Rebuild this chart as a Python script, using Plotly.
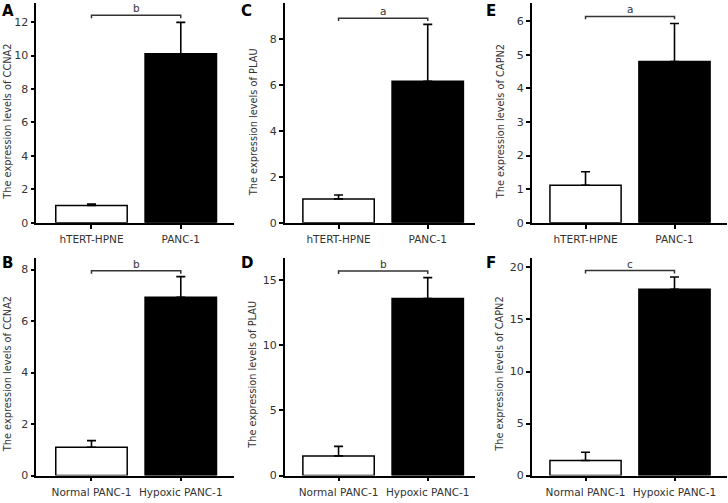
import plotly.graph_objects as go

W, H = 728, 503

# ---- data ----
cats_cell = ["hTERT-HPNE", "PANC-1"]
cats_hyp = ["Normal PANC-1", "Hypoxic PANC-1"]

ccna2_cell = [1.04, 10.1]
ccna2_cell_err = [0.08, 1.88]
plau_cell = [1.04, 6.15]
plau_cell_err = [0.17, 2.47]
capn2_cell = [1.12, 4.80]
capn2_cell_err = [0.40, 1.13]

ccna2_hyp = [1.10, 6.93]
ccna2_hyp_err = [0.26, 0.80]
plau_hyp = [1.51, 13.6]
plau_hyp_err = [0.73, 1.60]
capn2_hyp = [1.45, 17.9]
capn2_hyp_err = [0.79, 1.18]

sig_labels = {"A": "b", "C": "a", "E": "a", "B": "b", "D": "b", "F": "c"}
bracket_levels = {"A": 12.4, "C": 8.89, "E": 6.14, "B": 7.96, "D": 15.7, "F": 19.7}
yticks = {
    "A": [0, 2, 4, 6, 8, 10, 12],
    "C": [0, 2, 4, 6, 8],
    "E": [0, 1, 2, 3, 4, 5, 6],
    "B": [0, 2, 4, 6, 8],
    "D": [0, 5, 10, 15],
    "F": [0, 5, 10, 15, 20],
}
ytitles = {
    "A": "The expression levels of CCNA2",
    "C": "The expression levels of PLAU",
    "E": "The expression levels of CAPN2",
    "B": "The expression levels of CCNA2",
    "D": "The expression levels of PLAU",
    "F": "The expression levels of CAPN2",
}

# ---- layout geometry (pixels) ----
col_px = [(36.3, 234.0), (284.6, 475.0), (531.7, 727.0)]
col_xrange = [(-0.618, 1.596), (-0.605, 1.53), (-0.605, 1.59)]
row_px = [(3.0, 226.0), (261.7, 482.3)]  # top, bottom in screen px
yranges = {"A": 13.14, "C": 9.55, "E": 6.54, "B": 8.45, "D": 16.7, "F": 20.9}
title_x = [7.5, 253.0, 500.0]
title_y = [124.0, 380.0]

panels = [
    ("A", 0, 0, cats_cell, ccna2_cell, ccna2_cell_err),
    ("C", 0, 1, cats_cell, plau_cell, plau_cell_err),
    ("E", 0, 2, cats_cell, capn2_cell, capn2_cell_err),
    ("B", 1, 0, cats_hyp, ccna2_hyp, ccna2_hyp_err),
    ("D", 1, 1, cats_hyp, plau_hyp, plau_hyp_err),
    ("F", 1, 2, cats_hyp, capn2_hyp, capn2_hyp_err),
]

def px_x(p):
    return p / W

def px_y(p):
    return 1 - p / H

fig = go.Figure()
font = "DejaVu Sans"
annotations = []

for i, (lab, r, c, cats, vals, errs) in enumerate(panels):
    n = "" if i == 0 else str(i + 1)
    xa, ya = "x" + n, "y" + n
    # bars
    fig.add_trace(go.Bar(
        x=cats, y=vals, xaxis=xa, yaxis=ya,
        width=0.8,
        marker=dict(color=["white", "black"], line=dict(color="black", width=1.5)),
        error_y=dict(type="data", array=errs, arrayminus=[0, 0], symmetric=False,
                     color="black", thickness=1.6, width=4.5),
        showlegend=False, hoverinfo="skip",
    ))
    # significance bracket
    top, bot = row_px[r]
    ymax = yranges[lab]
    drop = 3.0 * ymax / (bot - top)
    b = bracket_levels[lab]
    fig.add_trace(go.Scatter(
        x=[cats[0], cats[0], cats[1], cats[1]], y=[b - drop, b, b, b - drop],
        xaxis=xa, yaxis=ya, mode="lines",
        line=dict(color="#333333", width=1.5), showlegend=False, hoverinfo="skip",
    ))
    annotations.append(dict(
        x=0.5, y=b, xref=xa, yref=ya, text=sig_labels[lab], showarrow=False,
        yanchor="middle", yshift=7, font=dict(family=font, size=10.5, color="#333333"),
    ))
    # axes
    l, rr = col_px[c]
    fig.layout["xaxis" + n] = dict(
        domain=[px_x(l), px_x(rr)], range=list(col_xrange[c]), type="category",
        anchor=ya, showline=True, linecolor="black", linewidth=1.5,
        ticks="outside", ticklen=4, tickwidth=1.5, tickcolor="black",
        showgrid=False, zeroline=False, fixedrange=True, ticklabelstandoff=2,
        tickfont=dict(family=font, size=10.5, color="#333333"),
    )
    fig.layout["yaxis" + n] = dict(
        domain=[px_y(bot), px_y(top)], range=[0, ymax], anchor=xa,
        showline=True, linecolor="black", linewidth=1.5,
        ticks="outside", ticklen=4, tickwidth=1.5, tickcolor="black",
        tickvals=yticks[lab], showgrid=False, zeroline=False, fixedrange=True,
        tickfont=dict(family=font, size=11, color="#333333"),
    )
    # y title
    annotations.append(dict(
        x=px_x(title_x[c]), y=px_y(title_y[r]), xref="paper", yref="paper",
        text=ytitles[lab], textangle=-90, showarrow=False,
        xanchor="center", yanchor="middle",
        font=dict(family=font, size=9.8, color="#333333"),
    ))
    # panel letter
    annotations.append(dict(
        x=px_x([0, 239, 484][c]), y=px_y([0, 256][r]), xref="paper", yref="paper",
        text="<b>%s</b>" % lab, showarrow=False, xanchor="left", yanchor="top",
        font=dict(family="DejaVu Sans", size=15, color="black"),
    ))

fig.update_layout(
    width=W, height=H, margin=dict(l=0, r=0, t=0, b=0),
    paper_bgcolor="white", plot_bgcolor="white",
    annotations=annotations, bargap=0.2,
)

fig.write_html("out.html", config={"displayModeBar": False},
               post_script="document.body.style.margin='0px';")
